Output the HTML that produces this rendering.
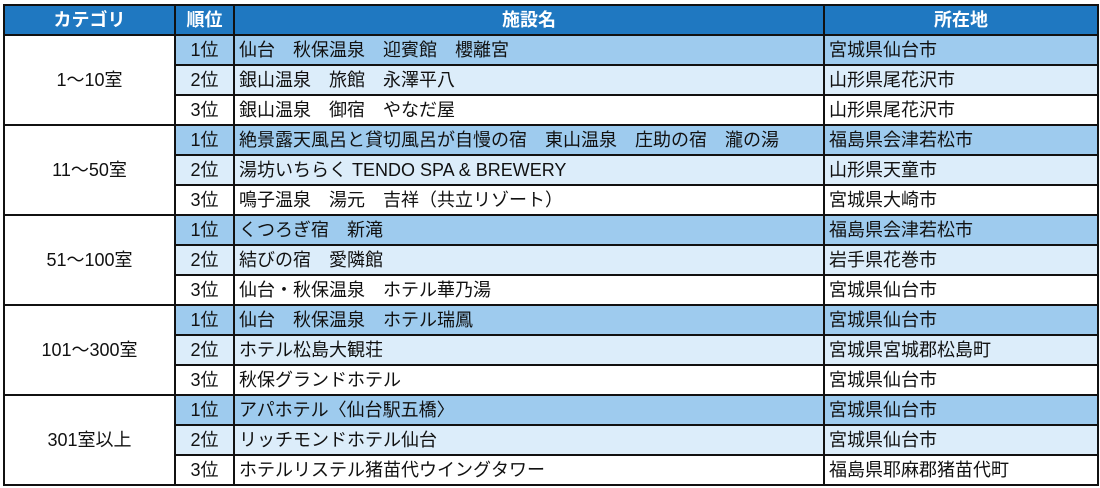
<!DOCTYPE html>
<html><head><meta charset="utf-8"><style>
html,body{margin:0;padding:0;background:#fff;width:1100px;height:488px;overflow:hidden}
table{position:absolute;left:3px;top:4px;border-collapse:collapse;table-layout:fixed;font-family:"Liberation Sans","Noto Sans CJK JP",sans-serif;font-size:18px;color:#111}
td,th{border:2px solid #111;height:28px;padding:0 4px;white-space:nowrap;overflow:hidden;line-height:28px}
th{background:#1f78c1;color:#fff;font-weight:bold;text-align:center}
td.c{text-align:center;background:#fff}
td.r{text-align:center}
tr.a td.r,tr.a td.n,tr.a td.l{background:#9ecbee}
tr.b td.r,tr.b td.n,tr.b td.l{background:#dcedfa}
tr.w td.r,tr.w td.n,tr.w td.l{background:#fff}
</style></head><body>
<table>
<colgroup><col style="width:171px"><col style="width:59px"><col style="width:590px"><col style="width:274px"></colgroup>
<tr><th>カテゴリ</th><th>順位</th><th>施設名</th><th>所在地</th></tr>
<tr class="a"><td class="c" rowspan="3">1～10室</td><td class="r">1位</td><td class="n">仙台　秋保温泉　迎賓館　櫻離宮</td><td class="l">宮城県仙台市</td></tr>
<tr class="b"><td class="r">2位</td><td class="n">銀山温泉　旅館　永澤平八</td><td class="l">山形県尾花沢市</td></tr>
<tr class="w"><td class="r">3位</td><td class="n">銀山温泉　御宿　やなだ屋</td><td class="l">山形県尾花沢市</td></tr>
<tr class="a"><td class="c" rowspan="3">11～50室</td><td class="r">1位</td><td class="n">絶景露天風呂と貸切風呂が自慢の宿　東山温泉　庄助の宿　瀧の湯</td><td class="l">福島県会津若松市</td></tr>
<tr class="b"><td class="r">2位</td><td class="n">湯坊いちらく TENDO SPA &amp; BREWERY</td><td class="l">山形県天童市</td></tr>
<tr class="w"><td class="r">3位</td><td class="n">鳴子温泉　湯元　吉祥（共立リゾート）</td><td class="l">宮城県大崎市</td></tr>
<tr class="a"><td class="c" rowspan="3">51～100室</td><td class="r">1位</td><td class="n">くつろぎ宿　新滝</td><td class="l">福島県会津若松市</td></tr>
<tr class="b"><td class="r">2位</td><td class="n">結びの宿　愛隣館</td><td class="l">岩手県花巻市</td></tr>
<tr class="w"><td class="r">3位</td><td class="n">仙台・秋保温泉　ホテル華乃湯</td><td class="l">宮城県仙台市</td></tr>
<tr class="a"><td class="c" rowspan="3">101～300室</td><td class="r">1位</td><td class="n">仙台　秋保温泉　ホテル瑞鳳</td><td class="l">宮城県仙台市</td></tr>
<tr class="b"><td class="r">2位</td><td class="n">ホテル松島大観荘</td><td class="l">宮城県宮城郡松島町</td></tr>
<tr class="w"><td class="r">3位</td><td class="n">秋保グランドホテル</td><td class="l">宮城県仙台市</td></tr>
<tr class="a"><td class="c" rowspan="3">301室以上</td><td class="r">1位</td><td class="n">アパホテル〈仙台駅五橋〉</td><td class="l">宮城県仙台市</td></tr>
<tr class="b"><td class="r">2位</td><td class="n">リッチモンドホテル仙台</td><td class="l">宮城県仙台市</td></tr>
<tr class="w"><td class="r">3位</td><td class="n">ホテルリステル猪苗代ウイングタワー</td><td class="l">福島県耶麻郡猪苗代町</td></tr>
</table>
</body></html>
